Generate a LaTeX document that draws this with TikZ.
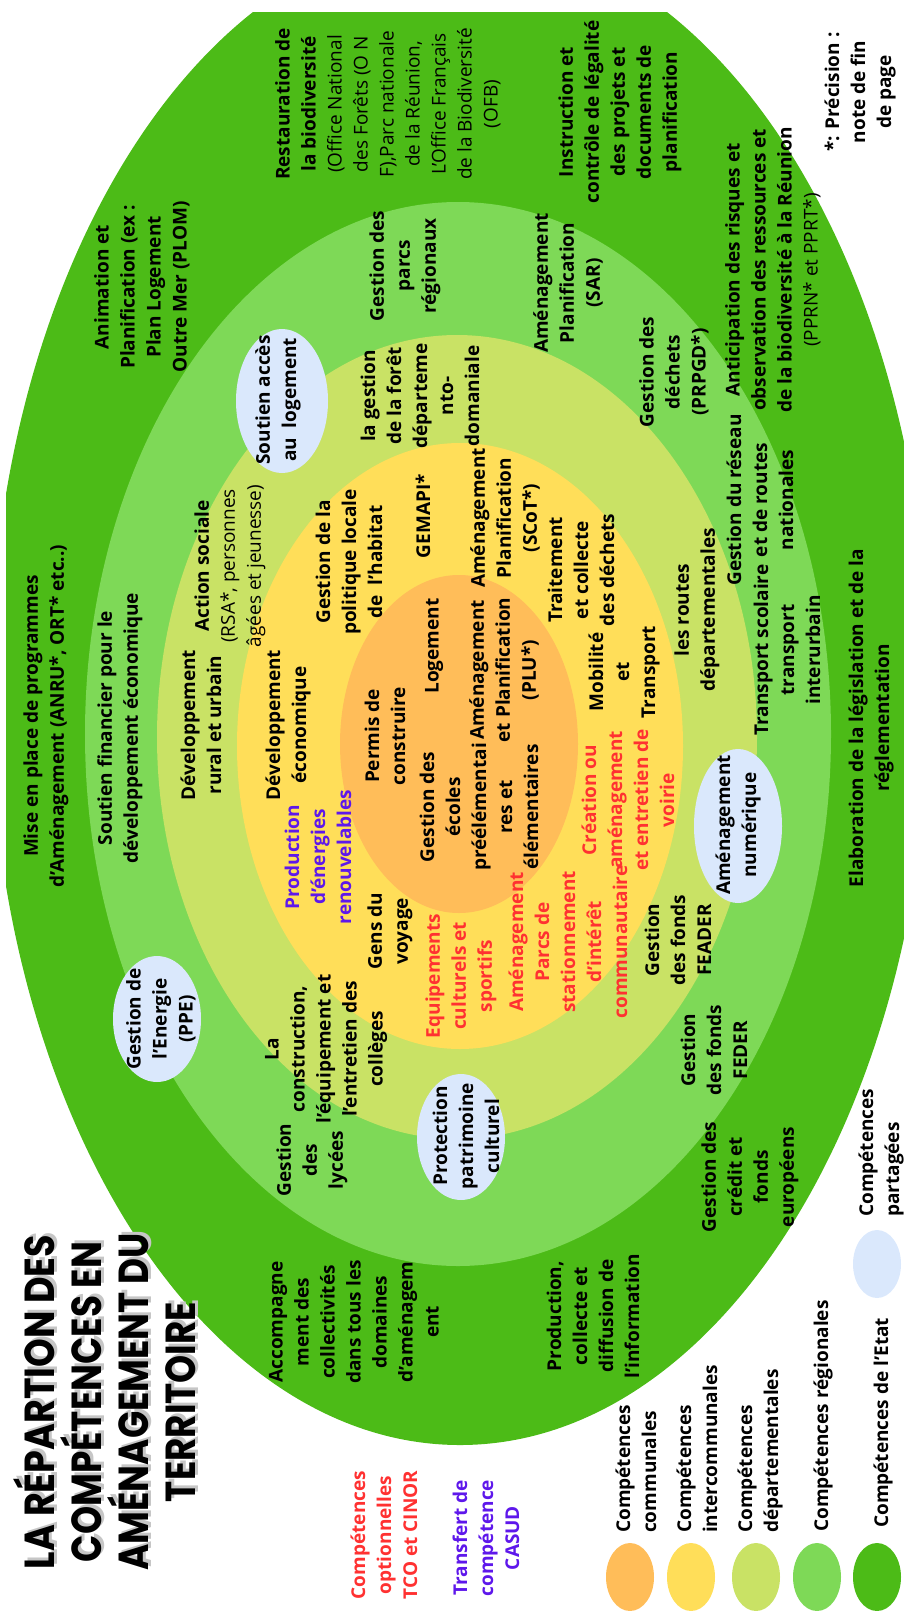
\documentclass[tikz,border=0pt]{standalone}
\usepackage{graphicx}
\usepackage{fontspec}
\setmainfont{Open Sans}
\newfontfamily\titlefont{Poppins}
\definecolor{etat}{HTML}{4CBB17}
\definecolor{region}{HTML}{7ED957}
\definecolor{depart}{HTML}{C9E265}
\definecolor{interco}{HTML}{FFDE59}
\definecolor{commune}{HTML}{FFBD59}
\definecolor{partage}{HTML}{DAE8FC}
\definecolor{optred}{HTML}{FF3131}
\definecolor{casud}{HTML}{5E17EB}
\newcommand{\tline}[2]{\resizebox{#1pt}{\height}{#2}}
\newcommand{\titletxt}{\tline{334}{LA RÉPARTION DES}\\\tline{320}{COMPÉTENCES EN}\\\tline{337}{AMÉNAGEMENT DU}\\\tline{200}{TERRITOIRE}}
\tikzset{
  lbl/.style={rotate=90, align=center, inner sep=0pt, font=\bfseries\fontsize{19}{26}\selectfont},
  legtext/.style={lbl, align=left, anchor=west},
  shared/.style={fill=partage},
  titletext/.style={lbl, font=\titlefont\bfseries\fontsize{42}{47}\selectfont},
}

\begin{document}
\begin{tikzpicture}[x=1pt, y=-1pt]
        \useasboundingbox (0,0) rectangle (904,1611);

        % The rings
        \begin{scope}
          \clip (6,13) rectangle (904,1611);
          \fill[etat] (460,690) ellipse [x radius=470, y radius=755];
        \end{scope}
        \fill[region] (458,734) ellipse [x radius=373, y radius=532];
        \fill[depart] (457,737) ellipse [x radius=300, y radius=402];
        \fill[interco] (460,746) ellipse [x radius=223, y radius=303];
        \fill[commune] (459,744) ellipse [x radius=119, y radius=169];

        % Shared competences
        \fill[shared] (282,401) ellipse [x radius=46, y radius=72];
        \fill[shared] (157,1019) ellipse [x radius=44, y radius=63];
        \fill[shared] (461,1137) ellipse [x radius=44, y radius=63];
        \fill[shared] (738,826) ellipse [x radius=44, y radius=77];

        % Title
        \node[titletext, text=gray!45] (titleshadow) at (108,1399) {\titletxt};
        \node[titletext] (title) at (105,1402) {\titletxt};

        % Etat
        \node[lbl] (resto) at (388,104) {Restauration de\\la biodiversité\\{\mdseries (Office National}\\{\mdseries des Forêts (O N}\\{\mdseries F),Parc nationale}\\{\mdseries de la Réunion,}\\{\mdseries L'Office Français}\\{\mdseries de la Biodiversité}\\{\mdseries (OFB)}};
        \node[lbl] (plom) at (142,287) {Animation et\\Planification (ex :\\Plan Logement\\Outre Mer (PLOM)};
        \node[lbl] (legal) at (620,112) {Instruction et\\contrôle de légalité\\des projets et\\documents de\\planification};
        \node[lbl] (note) at (860,92) {*: Précision :\\note de fin\\de page};
        \node[lbl] (risques) at (773,270) {Anticipation des risques et\\observation des ressources et\\de la biodiversité à la Réunion\\{\mdseries (PPRN* et PPRT*)}};
        \node[lbl] (legis) at (871,718) {Elaboration de la législation et de la\\réglementation};
        \node[lbl] (europe) at (750,1177) {Gestion des\\crédit et\\fonds\\européens};
        \node[lbl] (info) at (593,1316) {Production,\\collecte et\\diffusion de\\l'information};
        \node[lbl] (accomp) at (354,1322) {Accompagne\\ment des\\collectivités\\dans tous les\\domaines\\d'aménagem\\ent};
        \node[lbl] (anru) at (46,716) {Mise en place de programmes\\d'Aménagement (ANRU*, ORT* etc..)};

        % Region
        \node[lbl] (parcs) at (405,266) {Gestion des\\parcs\\régionaux};
        \node[lbl] (sar) at (568,283) {Aménagement\\Planification\\(SAR)};
        \node[lbl] (dechets) at (674,372) {Gestion des\\déchets\\(PRPGD*)};
        \node[lbl] (reseau) at (760,500) {Gestion du réseau\\et de routes\\nationales};
        \node[lbl] (scolaire) at (787,650) {Transport scolaire\\transport\\interurbain};
        \node[lbl] (feder) at (714,1050) {Gestion\\des fonds\\FEDER};
        \node[lbl] (soutien) at (120,728) {Soutien financier pour le\\développement économique};

        % Departement
        \node[lbl] (rural) at (201,725) {Développement\\rural et urbain};
        \node[lbl] (social) at (230,566) {Action sociale\\{\mdseries (RSA*, personnes}\\{\mdseries âgées et jeunesse)}};
        \node[lbl] (foret) at (420,396) {la gestion\\de la forêt\\départeme\\nto-\\domaniale};
        \node[lbl] (lycees) at (312,1160) {Gestion\\des\\lycées};
        \node[lbl] (colleges) at (326,1049) {La\\construction,\\l'équipement et\\l'entretien des\\collèges};
        \node[lbl] (routes) at (697,610) {les routes\\départementales};
        \node[lbl] (feader) at (678,940) {Gestion\\des fonds\\FEADER};

        % Intercommunalite
        \node[lbl] (eco) at (288,725) {Développement\\économique};
        \node[lbl, text=casud] (energie) at (318,857) {Production\\d'énergies\\renouvelables};
        \node[lbl] (voyage) at (390,931) {Gens du\\voyage};
        \node[lbl, text=optred] (equip) at (461,976) {Equipements\\culturels et\\sportifs};
        \node[lbl, text=optred] (parking) at (568,942) {Aménagement\\Parcs de\\stationnement\\d'intérêt\\communautaire};
        \node[lbl, text=optred] (voirie) at (628,800) {Création ou\\aménagement\\et entretien de\\voirie};
        \node[lbl] (gemapi) at (423,516) {GEMAPI*};
        \node[lbl] (habitat) at (349,562) {Gestion de la\\politique locale\\de~~l'habitat};
        \node[lbl] (scot) at (505,518) {Aménagement\\Planification\\(SCoT*)};
        \node[lbl] (traitement) at (581,570) {Traitement\\et collecte\\des déchets};
        \node[lbl] (mobilite) at (624,672) {Mobilité\\et\\Transport};

        % Commune
        \node[lbl] (logement) at (434,646) {Logement};
        \node[lbl] (permis) at (385,736) {Permis de\\construire};
        \node[lbl] (plu) at (504,670) {Aménagement\\et Planification\\(PLU*)};
        \node[lbl] (ecoles) at (479,807) {Gestion des\\écoles\\préélémentai\\res et\\élémentaires};

        % Shared labels
        \node[lbl] (logshared) at (278,400) {Soutien accès\\au~~logement};
        \node[lbl] (ppe) at (161,1019) {Gestion de\\l'Energie\\(PPE)};
        \node[lbl] (patri) at (466,1136) {Protection\\patrimoine\\culturel};
        \node[lbl] (numer) at (738,825) {Aménagement\\numérique};

        % Legend
        \fill[commune] (630,1577) ellipse [x radius=24, y radius=34];
        \fill[interco] (691,1577) ellipse [x radius=24, y radius=34];
        \fill[depart] (756,1577) ellipse [x radius=24, y radius=34];
        \fill[region] (817,1577) ellipse [x radius=24, y radius=34];
        \fill[etat] (877,1577) ellipse [x radius=24, y radius=34];
        \fill[shared] (877,1264) ellipse [x radius=24, y radius=34];
        \node[legtext] (legcom) at (636,1533) {Compétences\\communales};
        \node[legtext] (leginter) at (697,1533) {Compétences\\intercommunales};
        \node[legtext] (legdep) at (760,1533) {Compétences\\départementales};
        \node[legtext] (legreg) at (823,1532) {Compétences régionales};
        \node[legtext] (legetat) at (883,1528) {Compétences de l'Etat};
        \node[legtext] (legpart) at (881,1217) {Compétences\\partagées};
        \node[lbl, text=optred] (legopt) at (384,1535) {Compétences\\optionnelles\\TCO et CINOR};
        \node[lbl, text=casud] (legcasud) at (486,1538) {Transfert de\\compétence\\CASUD};
    \end{tikzpicture}
\end{document}
